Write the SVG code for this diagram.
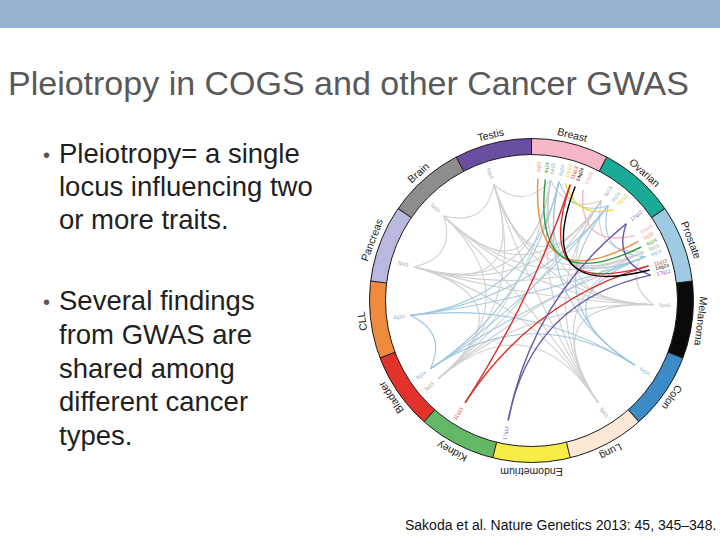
<svg xmlns="http://www.w3.org/2000/svg" width="720" height="540" viewBox="0 0 720 540">
<style>
.t{font-family:"Liberation Sans",Arial,sans-serif}
.seg{fill:none;stroke-width:16}
.lab{font-family:"Liberation Sans",Arial,sans-serif;font-size:10.5px;fill:#222;text-anchor:middle}
.loc{font-family:"Liberation Sans",Arial,sans-serif;font-size:5px}
.ls{text-anchor:start}
.le{text-anchor:end}
.gl{fill:#9a9a9a}
.bl{fill:#7fb3d3}
.ch path{fill:none}
.g5 path{stroke:#d0d0d0;stroke-width:1.1}
.b8 path{stroke:#9fc8de;stroke-width:1.1}
.col path{stroke-width:1.4}
.bul{font-family:"Liberation Sans",Arial,sans-serif;font-size:27.5px;fill:#1f1f1f}
</style>
<rect x="0" y="0" width="720" height="28" fill="#95b3d0"/>
<text class="t" x="8" y="95" font-size="34" fill="#595959">Pleiotropy in COGS and other Cancer GWAS</text>
<g id="bullets">
<text class="t" x="43" y="162" font-size="20" fill="#555">•</text>
<text class="bul" x="59" y="163">Pleiotropy= a single</text>
<text class="bul" x="59" y="196">locus influencing two</text>
<text class="bul" x="59" y="229">or more traits.</text>
<text class="t" x="43" y="309" font-size="20" fill="#555">•</text>
<text class="bul" x="59" y="310">Several findings</text>
<text class="bul" x="59" y="344">from GWAS are</text>
<text class="bul" x="59" y="378">shared among</text>
<text class="bul" x="59" y="411">different cancer</text>
<text class="bul" x="59" y="445">types.</text>
</g>
<text class="t" x="405" y="530" font-size="14" fill="#111">Sakoda et al. Nature Genetics 2013: 45, 345–348.</text>

<g id="connectors" class="ch">
<g class="g5">
<path d="M550.6 180Q566.5 214 601.5 200.6"/>
<path d="M550.6 180Q531.5 300.5 643.4 251.9"/>
<path d="M550.6 180Q531.5 300.5 653.4 304.8"/>
<path d="M550.6 180Q531.5 300.5 598 402.8"/>
<path d="M550.6 180Q531.5 300.5 438 378.9"/>
<path d="M550.6 180Q531.5 300.5 414.2 266.9"/>
<path d="M550.6 180Q531.5 300.5 443.7 215.8"/>
<path d="M550.6 180Q524.4 210.8 493.8 184.5"/>
<path d="M601.5 200.6Q589.6 253.1 643.4 251.9"/>
<path d="M601.5 200.6Q531.5 300.5 653.4 304.8"/>
<path d="M601.5 200.6Q531.5 300.5 598 402.8"/>
<path d="M601.5 200.6Q531.5 300.5 438 378.9"/>
<path d="M601.5 200.6Q531.5 300.5 414.2 266.9"/>
<path d="M601.5 200.6Q531.5 300.5 443.7 215.8"/>
<path d="M601.5 200.6Q531.5 300.5 493.8 184.5"/>
<path d="M643.4 251.9Q624.8 282.8 653.4 304.8"/>
<path d="M643.4 251.9Q531.5 300.5 598 402.8"/>
<path d="M643.4 251.9Q531.5 300.5 438 378.9"/>
<path d="M643.4 251.9Q531.5 300.5 414.2 266.9"/>
<path d="M643.4 251.9Q531.5 300.5 443.7 215.8"/>
<path d="M643.4 251.9Q531.5 300.5 493.8 184.5"/>
<path d="M653.4 304.8Q531.5 300.5 598 402.8"/>
<path d="M653.4 304.8Q531.5 300.5 438 378.9"/>
<path d="M653.4 304.8Q531.5 300.5 414.2 266.9"/>
<path d="M653.4 304.8Q531.5 300.5 443.7 215.8"/>
<path d="M653.4 304.8Q531.5 300.5 493.8 184.5"/>
<path d="M598 402.8Q531.5 300.5 438 378.9"/>
<path d="M598 402.8Q531.5 300.5 414.2 266.9"/>
<path d="M598 402.8Q531.5 300.5 443.7 215.8"/>
<path d="M598 402.8Q531.5 300.5 493.8 184.5"/>
<path d="M438 378.9Q531.5 300.5 414.2 266.9"/>
<path d="M438 378.9Q531.5 300.5 443.7 215.8"/>
<path d="M438 378.9Q531.5 300.5 493.8 184.5"/>
<path d="M414.2 266.9Q456.4 257.2 443.7 215.8"/>
<path d="M414.2 266.9Q531.5 300.5 493.8 184.5"/>
<path d="M443.7 215.8Q485.6 227 493.8 184.5"/>
</g>
<g class="b8">
<path d="M558.9 181.6Q572.4 216.6 608.3 205.7"/>
<path d="M558.9 181.6Q531.5 300.5 645.4 256.8"/>
<path d="M558.9 181.6Q531.5 300.5 635 365.2"/>
<path d="M558.9 181.6Q531.5 300.5 430.4 368.7"/>
<path d="M558.9 181.6Q531.5 300.5 410.4 315.4"/>
<path d="M608.3 205.7Q596.2 253.5 645.4 256.8"/>
<path d="M608.3 205.7Q531.5 300.5 635 365.2"/>
<path d="M608.3 205.7Q531.5 300.5 430.4 368.7"/>
<path d="M608.3 205.7Q531.5 300.5 410.4 315.4"/>
<path d="M645.4 256.8Q531.5 300.5 635 365.2"/>
<path d="M645.4 256.8Q531.5 300.5 430.4 368.7"/>
<path d="M645.4 256.8Q531.5 300.5 410.4 315.4"/>
<path d="M635 365.2Q531.5 300.5 430.4 368.7"/>
<path d="M635 365.2Q531.5 300.5 410.4 315.4"/>
<path d="M430.4 368.7Q447.2 332 410.4 315.4"/>
</g>
<g class="col">
<path stroke="#f4b6c6" d="M583.1 189.9Q577.9 248.1 635 235.9"/>
<path stroke="#f08a3c" d="M537.9 178.7Q531.5 300.5 638.2 241.4"/>
<path stroke="#2e9e48" d="M545.3 179.3Q531.5 300.5 641.2 247"/>
<path stroke="#f0e030" d="M565.1 183.2Q576.7 218.9 613.1 209.8"/>
<path stroke="#d7302a" d="M570.2 184.8Q531.5 300.5 648.5 265.9"/>
<path stroke="#d7302a" d="M465.1 402.8Q531.5 300.5 570.2 184.8"/>
<path stroke="#d7302a" d="M465.1 402.8Q531.5 300.5 648.5 265.9"/>
<path stroke="#6b5aa6" d="M508.2 420.3Q531.5 300.5 626.3 223.7"/>
<path stroke="#6b5aa6" d="M508.2 420.3Q531.5 300.5 650.8 275.1"/>
<path stroke="#6b5aa6" d="M626.3 223.7Q612.7 261.8 650.8 275.1"/>
<path stroke="#000" d="M575.2 186.6Q531.5 300.5 649.6 270"/>
</g>
</g>

<g id="breast">
<circle class="seg" cx="531.5" cy="300.5" r="154" stroke="#f6b8c8" stroke-dasharray="74.4316 893.18" stroke-dashoffset="0" transform="rotate(-90 531.5 300.5)"/>
<text class="lab" x="531.5" y="133.5" transform="rotate(13.846 531.5 300.5)">Breast</text>
<g class="loc ls">
<text x="659.5" y="300.5" dy="1.8" fill="#f08a3c" transform="rotate(-87 531.5 300.5)">1q32</text>
<text x="659.5" y="300.5" dy="1.8" fill="#2e9e48" transform="rotate(-83.5 531.5 300.5)">4q24</text>
<text x="659.5" y="300.5" dy="1.8" class="gl" transform="rotate(-81 531.5 300.5)">5p15</text>
<text x="659.5" y="300.5" dy="1.8" class="bl" transform="rotate(-77 531.5 300.5)">8q24</text>
<text x="659.5" y="300.5" dy="1.8" fill="#e0cc20" transform="rotate(-74 531.5 300.5)">19p13</text>
<text x="659.5" y="300.5" dy="1.8" fill="#d7302a" transform="rotate(-71.5 531.5 300.5)">11q13</text>
<text x="659.5" y="300.5" dy="1.8" fill="#000" transform="rotate(-69 531.5 300.5)">14q24</text>
<text x="659.5" y="300.5" dy="1.8" fill="#f0a8bc" transform="rotate(-65 531.5 300.5)">10q26</text>
</g>
</g>
<g id="ovarian">
<circle class="seg" cx="531.5" cy="300.5" r="154" stroke="#1aaa98" stroke-dasharray="74.4316 893.18" stroke-dashoffset="-74.432" transform="rotate(-90 531.5 300.5)"/>
<text class="lab" x="531.5" y="133.5" transform="rotate(41.538 531.5 300.5)">Ovarian</text>
<g class="loc ls">
<text x="659.5" y="300.5" dy="1.8" class="gl" transform="rotate(-55 531.5 300.5)">5p15</text>
<text x="659.5" y="300.5" dy="1.8" class="bl" transform="rotate(-51 531.5 300.5)">8q24</text>
<text x="659.5" y="300.5" dy="1.8" fill="#e0cc20" transform="rotate(-48 531.5 300.5)">19p13</text>
<text x="659.5" y="300.5" dy="1.8" fill="#6b5aa6" transform="rotate(-39 531.5 300.5)">17q12</text>
</g>
</g>
<g id="prostate">
<circle class="seg" cx="531.5" cy="300.5" r="154" stroke="#9ecae3" stroke-dasharray="74.4316 893.18" stroke-dashoffset="-148.863" transform="rotate(-90 531.5 300.5)"/>
<text class="lab" x="531.5" y="133.5" transform="rotate(69.231 531.5 300.5)">Prostate</text>
<g class="loc ls">
<text x="659.5" y="300.5" dy="1.8" fill="#f0a8bc" transform="rotate(-32 531.5 300.5)">10q26</text>
<text x="659.5" y="300.5" dy="1.8" fill="#f08a3c" transform="rotate(-29 531.5 300.5)">1q32</text>
<text x="659.5" y="300.5" dy="1.8" fill="#2e9e48" transform="rotate(-26 531.5 300.5)">4q24</text>
<text x="659.5" y="300.5" dy="1.8" class="gl" transform="rotate(-23.5 531.5 300.5)">5p15</text>
<text x="659.5" y="300.5" dy="1.8" class="bl" transform="rotate(-21 531.5 300.5)">8q24</text>
<text x="659.5" y="300.5" dy="1.8" fill="#d7302a" transform="rotate(-16.5 531.5 300.5)">11q13</text>
<text x="659.5" y="300.5" dy="1.8" fill="#000" transform="rotate(-14.5 531.5 300.5)">14q24</text>
<text x="659.5" y="300.5" dy="1.8" fill="#6b5aa6" transform="rotate(-12 531.5 300.5)">17q12</text>
</g>
</g>
<g id="melanoma">
<circle class="seg" cx="531.5" cy="300.5" r="154" stroke="#0a0a0a" stroke-dasharray="74.4316 893.18" stroke-dashoffset="-223.295" transform="rotate(-90 531.5 300.5)"/>
<text class="lab" x="531.5" y="133.5" transform="rotate(96.923 531.5 300.5)">Melanoma</text>
<text class="loc ls gl" x="659.5" y="300.5" dy="1.8" transform="rotate(2 531.5 300.5)">5p15</text>
</g>
<g id="colon">
<circle class="seg" cx="531.5" cy="300.5" r="154" stroke="#3b8bc6" stroke-dasharray="74.4316 893.18" stroke-dashoffset="-297.726" transform="rotate(-90 531.5 300.5)"/>
<text class="lab" x="531.5" y="133.5" transform="rotate(124.615 531.5 300.5)">Colon</text>
<text class="loc ls bl" x="659.5" y="300.5" dy="1.8" transform="rotate(32 531.5 300.5)">8q24</text>
</g>
<g id="lung">
<circle class="seg" cx="531.5" cy="300.5" r="154" stroke="#fbe8d6" stroke-dasharray="74.4316 893.18" stroke-dashoffset="-372.158" transform="rotate(-90 531.5 300.5)"/>
<text class="lab" x="531.5" y="133.5" transform="rotate(152.308 531.5 300.5)">Lung</text>
<text class="loc ls gl" x="659.5" y="300.5" dy="1.8" transform="rotate(57 531.5 300.5)">5p15</text>
</g>
<g id="endometrium">
<circle class="seg" cx="531.5" cy="300.5" r="154" stroke="#f7ec45" stroke-dasharray="74.4316 893.18" stroke-dashoffset="-446.590" transform="rotate(-90 531.5 300.5)"/>
<text class="lab" x="531.5" y="133.5" transform="rotate(180 531.5 300.5)">Endometrium</text>
<text class="loc le" x="403.5" y="300.5" dy="1.8" fill="#6b5aa6" transform="rotate(-79 531.5 300.5)">17q12</text>
</g>
<g id="kidney">
<circle class="seg" cx="531.5" cy="300.5" r="154" stroke="#63b865" stroke-dasharray="74.4316 893.18" stroke-dashoffset="-521.021" transform="rotate(-90 531.5 300.5)"/>
<text class="lab" x="531.5" y="133.5" transform="rotate(207.692 531.5 300.5)">Kidney</text>
<text class="loc le" x="403.5" y="300.5" dy="1.8" fill="#d7302a" transform="rotate(-57 531.5 300.5)">11q13</text>
</g>
<g id="bladder">
<circle class="seg" cx="531.5" cy="300.5" r="154" stroke="#e2322b" stroke-dasharray="74.4316 893.18" stroke-dashoffset="-595.453" transform="rotate(-90 531.5 300.5)"/>
<text class="lab" x="531.5" y="133.5" transform="rotate(235.385 531.5 300.5)">Bladder</text>
<text class="loc le gl" x="403.5" y="300.5" dy="1.8" transform="rotate(-40 531.5 300.5)">5p15</text>
<text class="loc le bl" x="403.5" y="300.5" dy="1.8" transform="rotate(-34 531.5 300.5)">8q24</text>
</g>
<g id="cll">
<circle class="seg" cx="531.5" cy="300.5" r="154" stroke="#f08a3c" stroke-dasharray="74.4316 893.18" stroke-dashoffset="-669.884" transform="rotate(-90 531.5 300.5)"/>
<text class="lab" x="531.5" y="133.5" transform="rotate(263.077 531.5 300.5)">CLL</text>
<text class="loc le bl" x="403.5" y="300.5" dy="1.8" transform="rotate(-7 531.5 300.5)">8q24</text>
</g>
<g id="pancreas">
<circle class="seg" cx="531.5" cy="300.5" r="154" stroke="#b9b9e0" stroke-dasharray="74.4316 893.18" stroke-dashoffset="-744.316" transform="rotate(-90 531.5 300.5)"/>
<text class="lab" x="531.5" y="133.5" transform="rotate(290.769 531.5 300.5)">Pancreas</text>
<text class="loc le gl" x="403.5" y="300.5" dy="1.8" transform="rotate(16 531.5 300.5)">5p15</text>
</g>
<g id="brain">
<circle class="seg" cx="531.5" cy="300.5" r="154" stroke="#8d8d8d" stroke-dasharray="74.4316 893.18" stroke-dashoffset="-818.748" transform="rotate(-90 531.5 300.5)"/>
<text class="lab" x="531.5" y="133.5" transform="rotate(318.462 531.5 300.5)">Brain</text>
<text class="loc le gl" x="403.5" y="300.5" dy="1.8" transform="rotate(44 531.5 300.5)">5p15</text>
</g>
<g id="testis">
<circle class="seg" cx="531.5" cy="300.5" r="154" stroke="#6a4ea2" stroke-dasharray="74.4316 893.18" stroke-dashoffset="-893.179" transform="rotate(-90 531.5 300.5)"/>
<text class="lab" x="531.5" y="133.5" transform="rotate(346.154 531.5 300.5)">Testis</text>
<text class="loc le gl" x="403.5" y="300.5" dy="1.8" transform="rotate(72 531.5 300.5)">5p15</text>
</g>
<g id="ring-outline" fill="none" stroke="#1a1a1a" stroke-width="1">
<circle cx="531.5" cy="300.5" r="146"/>
<circle cx="531.5" cy="300.5" r="162"/>
<line x1="531.5" y1="138.5" x2="531.5" y2="154.5"/>
<line x1="531.5" y1="138.5" x2="531.5" y2="154.5" transform="rotate(27.692 531.5 300.5)"/>
<line x1="531.5" y1="138.5" x2="531.5" y2="154.5" transform="rotate(55.385 531.5 300.5)"/>
<line x1="531.5" y1="138.5" x2="531.5" y2="154.5" transform="rotate(83.077 531.5 300.5)"/>
<line x1="531.5" y1="138.5" x2="531.5" y2="154.5" transform="rotate(110.769 531.5 300.5)"/>
<line x1="531.5" y1="138.5" x2="531.5" y2="154.5" transform="rotate(138.462 531.5 300.5)"/>
<line x1="531.5" y1="138.5" x2="531.5" y2="154.5" transform="rotate(166.154 531.5 300.5)"/>
<line x1="531.5" y1="138.5" x2="531.5" y2="154.5" transform="rotate(193.846 531.5 300.5)"/>
<line x1="531.5" y1="138.5" x2="531.5" y2="154.5" transform="rotate(221.538 531.5 300.5)"/>
<line x1="531.5" y1="138.5" x2="531.5" y2="154.5" transform="rotate(249.231 531.5 300.5)"/>
<line x1="531.5" y1="138.5" x2="531.5" y2="154.5" transform="rotate(276.923 531.5 300.5)"/>
<line x1="531.5" y1="138.5" x2="531.5" y2="154.5" transform="rotate(304.615 531.5 300.5)"/>
<line x1="531.5" y1="138.5" x2="531.5" y2="154.5" transform="rotate(332.308 531.5 300.5)"/>
</g>
</svg>
